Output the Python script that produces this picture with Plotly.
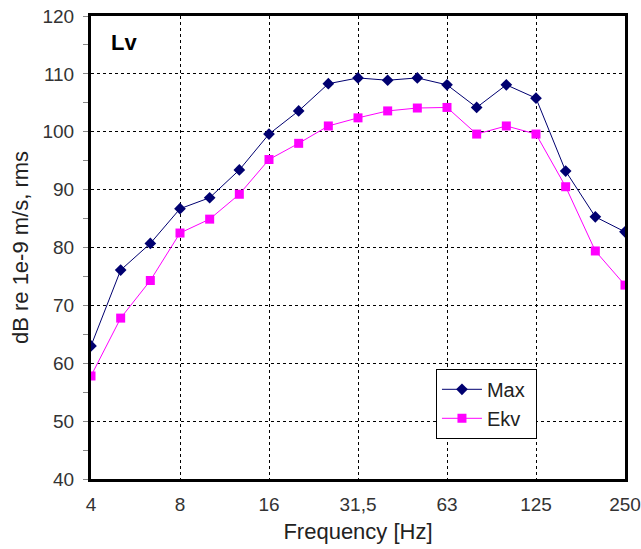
import plotly.graph_objects as go

freqs = ["4", "5", "6,3", "8", "10", "12,5", "16", "20", "25", "31,5", "40", "50",
         "63", "80", "100", "125", "160", "200", "250"]
max_vals = [63.0, 76.1, 80.7, 86.7, 88.6, 93.4, 99.6, 103.6, 108.3, 109.3, 108.9, 109.3,
            108.1, 104.2, 108.1, 105.8, 93.2, 85.3, 82.7]
ekv_vals = [57.8, 67.8, 74.3, 82.5, 84.9, 89.2, 95.2, 98.0, 101.0, 102.4, 103.6, 104.1,
            104.2, 99.6, 101.0, 99.6, 90.5, 79.4, 73.5]
x_ticks = ["4", "8", "16", "31,5", "63", "125", "250"]
y_ticks = [40, 50, 60, 70, 80, 90, 100, 110, 120]

FONT = "Liberation Sans, Arial, sans-serif"

fig = go.Figure()
fig.add_trace(go.Scatter(x=freqs, y=max_vals, name="Max ", mode="lines+markers",
                         line=dict(color="#000070", width=1),
                         marker=dict(symbol="diamond", size=9, color="#000070")))
fig.add_trace(go.Scatter(x=freqs, y=ekv_vals, name="Ekv ", mode="lines+markers",
                         line=dict(color="#FF00FF", width=1),
                         marker=dict(symbol="square", size=9, color="#FF00FF")))

fig.update_layout(
    width=641, height=549,
    margin=dict(l=91, r=16, t=16, b=70, autoexpand=False),
    paper_bgcolor="white", plot_bgcolor="white",
    font=dict(family=FONT, size=19, color="#333"),
    showlegend=True,
    legend=dict(x=0.646, y=0.238, xanchor="left", yanchor="top",
                bgcolor="white", bordercolor="black", borderwidth=1,
                font=dict(size=20, family=FONT, color="#222"), itemwidth=40,
                tracegroupgap=4),
    annotations=[dict(text="<b>Lv</b>", xref="paper", yref="paper", x=0.033, y=0.975,
                      xanchor="left", yanchor="top", showarrow=False,
                      font=dict(size=22, family=FONT, color="black"))],
)
fig.update_xaxes(
    type="category", categoryorder="array", categoryarray=freqs,
    range=[0, len(freqs) - 1],
    tickmode="array", tickvals=x_ticks, ticktext=x_ticks,
    showgrid=True, gridcolor="black", griddash="dot", gridwidth=1,
    showline=True, linecolor="black", linewidth=3, mirror=True,
    ticks="", ticklabelstandoff=6,
    title=dict(text="Frequency [Hz]", standoff=10, font=dict(size=22, color="#222")),
    zeroline=False,
)
fig.update_yaxes(
    range=[40, 120], tickvals=y_ticks,
    showgrid=True, gridcolor="black", griddash="dot", gridwidth=1,
    showline=True, linecolor="black", linewidth=3, mirror=True,
    ticks="", ticklabelstandoff=10,
    minor=dict(dtick=5, ticks="outside", ticklen=5, tickcolor="#888", showgrid=False),
    title=dict(text="dB re 1e-9 m/s, rms", standoff=8, font=dict(size=22, color="#222")),
    zeroline=False,
)

fig.write_html("out.html", config={"displayModeBar": False},
               post_script="document.body.style.margin='0';document.body.style.padding='0';")
